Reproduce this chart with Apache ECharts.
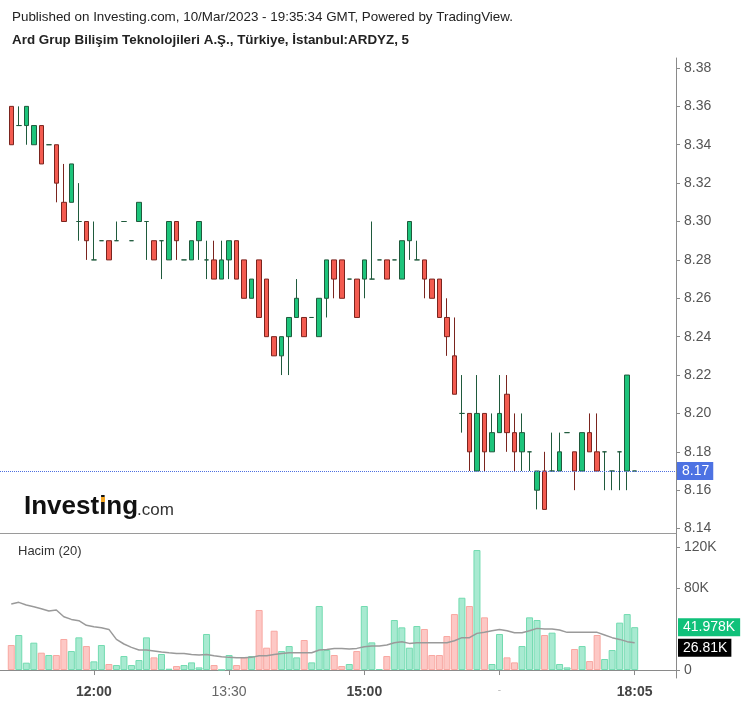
<!DOCTYPE html>
<html><head><meta charset="utf-8">
<script src="https://cdn.jsdelivr.net/npm/echarts@6/dist/echarts.min.js"></script>
<style>html,body{margin:0;padding:0;background:#fff}#c{width:747px;height:707px}</style>
</head><body><div id="c"></div>
<script>
// ---- data ----
const times = ['11:05','11:10','11:15','11:20','11:25','11:30','11:35','11:40','11:45','11:50','11:55',
'12:00','12:05','12:10','12:15','12:20','12:25','12:30','12:35','12:40','12:45','12:50','12:55',
'13:00','13:05','13:10','13:15','13:20','13:25','13:30','13:35','13:40','13:45','13:50','13:55',
'14:00','14:05','14:10','14:15','14:20','14:25','14:30','14:35','14:40','14:45','14:50','14:55',
'15:00','15:05','15:10','15:15','15:20','15:25','15:30','15:35','15:40','15:45','15:50','15:55',
'16:00','16:05','16:10','16:15','16:20','16:25','16:30','16:35','16:40','16:45','16:50','16:55',
'17:00','17:05','17:10','17:15','17:20','17:25','17:30','17:35','17:40','17:45','17:50','17:55','18:05'];
const opens  = [8.36,8.35,8.35,8.34,8.35,8.34,8.34,8.31,8.31,8.30,8.30,8.28,8.29,8.29,8.29,8.30,8.29,8.30,8.30,8.29,8.29,8.28,8.30,8.28,8.28,8.29,8.28,8.28,8.27,8.28,8.29,8.28,8.26,8.28,8.27,8.24,8.23,8.24,8.25,8.25,8.25,8.24,8.26,8.28,8.28,8.27,8.27,8.27,8.27,8.28,8.28,8.28,8.27,8.29,8.28,8.28,8.27,8.27,8.25,8.23,8.20,8.20,8.17,8.20,8.18,8.19,8.21,8.19,8.18,8.18,8.16,8.17,8.17,8.17,8.19,8.18,8.17,8.19,8.18,8.18,8.17,8.18,8.17,8.17];
const closes = [8.34,8.35,8.36,8.35,8.33,8.34,8.32,8.30,8.33,8.30,8.29,8.28,8.29,8.28,8.29,8.30,8.29,8.31,8.30,8.28,8.29,8.30,8.29,8.28,8.29,8.30,8.28,8.27,8.28,8.29,8.27,8.26,8.27,8.25,8.24,8.23,8.24,8.25,8.26,8.24,8.25,8.26,8.28,8.27,8.26,8.27,8.25,8.28,8.27,8.28,8.27,8.28,8.29,8.30,8.28,8.27,8.26,8.25,8.24,8.21,8.20,8.18,8.20,8.18,8.19,8.20,8.19,8.18,8.19,8.18,8.17,8.15,8.17,8.18,8.19,8.17,8.19,8.18,8.17,8.18,8.17,8.18,8.22,8.17];
const lows   = [8.34,8.35,8.34,8.34,8.33,8.34,8.31,8.30,8.31,8.29,8.28,8.28,8.29,8.28,8.29,8.30,8.29,8.30,8.28,8.28,8.27,8.28,8.28,8.28,8.28,8.28,8.27,8.27,8.27,8.27,8.27,8.26,8.26,8.25,8.24,8.23,8.22,8.22,8.25,8.24,8.25,8.24,8.25,8.26,8.26,8.27,8.25,8.26,8.27,8.28,8.27,8.28,8.27,8.28,8.28,8.26,8.26,8.25,8.23,8.21,8.19,8.17,8.17,8.17,8.18,8.19,8.18,8.17,8.17,8.17,8.15,8.15,8.17,8.17,8.19,8.16,8.17,8.18,8.17,8.16,8.16,8.16,8.16,8.17];
const highs  = [8.36,8.36,8.36,8.35,8.35,8.34,8.34,8.33,8.33,8.32,8.30,8.30,8.29,8.29,8.30,8.30,8.29,8.31,8.30,8.29,8.29,8.30,8.30,8.28,8.29,8.30,8.29,8.29,8.29,8.29,8.29,8.28,8.27,8.28,8.27,8.24,8.24,8.25,8.27,8.25,8.25,8.26,8.28,8.28,8.28,8.27,8.27,8.28,8.30,8.28,8.28,8.28,8.29,8.30,8.29,8.28,8.27,8.27,8.26,8.25,8.22,8.20,8.22,8.20,8.20,8.22,8.22,8.20,8.20,8.18,8.17,8.18,8.19,8.19,8.19,8.18,8.19,8.20,8.20,8.18,8.17,8.18,8.22,8.17];
// volume in thousands
const volumes = [24.5,34.3,7.2,26.8,17.0,14.7,14.7,30.4,18.6,32.0,23.5,8.5,24.5,5.9,4.9,13.7,4.9,9.8,32.0,12.4,15.7,1.3,3.9,4.9,7.5,2.6,35.3,4.9,0.3,14.7,4.9,12.4,13.7,58.8,21.9,38.5,18.6,23.5,12.4,29.4,7.5,62.7,19.6,14.7,3.9,5.9,18.6,62.7,27.1,1.0,13.7,49.0,41.8,21.9,43.1,40.2,14.7,14.7,33.3,54.8,70.8,62.7,117.5,51.6,5.9,35.3,12.4,7.5,23.5,51.6,49.0,34.3,36.6,5.9,2.6,20.6,23.5,8.8,34.3,10.8,19.6,46.4,54.8,41.978];
const volumeMA = [64.6,66.3,63.7,62.0,60.1,57.8,58.8,52.2,49.6,48.3,43.8,42.4,41.5,39.8,30.0,25.5,22.2,19.6,19.6,18.6,17.6,16.9,16.3,16.3,15.3,14.7,15.3,14.0,13.1,12.4,12.1,12.1,12.4,14.0,14.0,15.3,16.3,17.0,17.0,17.0,17.0,19.6,20.2,21.2,21.2,20.6,21.2,22.9,23.5,23.5,24.5,26.8,27.8,26.1,26.8,26.8,26.8,26.8,26.8,28.7,31.7,31.7,35.9,36.9,38.5,39.8,38.5,36.6,36.6,38.5,40.8,40.2,40.2,39.2,36.9,36.9,36.9,36.9,36.9,34.3,31.7,30.0,27.8,26.81];
const priceTicks = [8.14,8.16,8.18,8.20,8.22,8.24,8.26,8.28,8.30,8.32,8.34,8.36,8.38];
const volumeTicks = [0,80,120];
const timeLabels = ['12:00','13:30','15:00','16:30','18:05'];
const lastPrice = 8.17;

// ---- build ----
const FONT = '"Liberation Sans", Arial, sans-serif';
const cats = [''].concat(times, ['', '', '', '', '']);
const padWith = (a, e) => [e].concat(a, [e, e, e, e, e]);
const candles = padWith(times.map((t, i) => [opens[i], closes[i], lows[i], highs[i]]), ['-', '-', '-', '-']);
const volData = padWith(volumes.map((v, i) => {
  const down = closes[i] < opens[i];
  return {value: v, itemStyle: {color: down ? '#fdc8c5' : '#a8ead1', borderColor: down ? '#f8a7a1' : '#72dbb0'}};
}), {value: '-'});
const maData = padWith(volumeMA, '-');
const labelSet = new Set(timeLabels);
const showFn = (idx, val) => labelSet.has(val);
const lastVol = volumes[volumes.length - 1];
const lastMA = volumeMA[volumeMA.length - 1];

const chart = echarts.init(document.getElementById('c'), null, {renderer: 'canvas'});
chart.setOption({
  animation: false,
  backgroundColor: '#fff',
  textStyle: {fontFamily: FONT},
  grid: [
    {left: 0, top: 58, width: 676, height: 475},
    {left: 0, top: 533, width: 676, height: 145}
  ],
  xAxis: [
    {type: 'category', gridIndex: 0, data: cats, boundaryGap: true,
     axisLine: {show: true, lineStyle: {color: '#9a9a9a', width: 1}},
     axisTick: {show: false}, axisLabel: {show: false}, splitLine: {show: false}},
    {type: 'category', gridIndex: 1, data: cats, boundaryGap: true,
     axisLine: {show: true, lineStyle: {color: '#8a8a8a', width: 1}},
     axisTick: {show: true, interval: showFn, alignWithLabel: true, length: 5, lineStyle: {color: '#8a8a8a'}},
     axisLabel: {show: true, interval: showFn, margin: 7,
       formatter: v => v === '13:30' ? '{n|13:30}' : (v === '16:30' ? '{d|-}' : '{b|' + v + '}'),
       rich: {b: {fontWeight: 'bold', fontSize: 14, color: '#444', fontFamily: FONT},
              n: {fontSize: 14, color: '#666', fontFamily: FONT},
              d: {fontSize: 10, color: '#bbb', fontFamily: FONT}}},
     splitLine: {show: false}}
  ],
  yAxis: [
    {type: 'value', gridIndex: 0, position: 'right', min: 8.1377, max: 8.3852,
     axisLine: {show: true, lineStyle: {color: '#8a8a8a'}},
     axisTick: {show: true, length: 4, customValues: priceTicks, lineStyle: {color: '#8a8a8a'}},
     axisLabel: {show: true, customValues: priceTicks, margin: 8, color: '#555', fontSize: 14,
       formatter: v => v.toFixed(2)},
     splitLine: {show: false}},
    {type: 'value', gridIndex: 1, position: 'right', min: -7.8, max: 134.2,
     axisLine: {show: true, lineStyle: {color: '#8a8a8a'}},
     axisTick: {show: true, length: 4, customValues: volumeTicks, lineStyle: {color: '#8a8a8a'}},
     axisLabel: {show: true, customValues: volumeTicks, margin: 8, color: '#555', fontSize: 14,
       formatter: v => v === 0 ? '0' : v + 'K'},
     splitLine: {show: false}}
  ],
  series: [
    {type: 'candlestick', xAxisIndex: 0, yAxisIndex: 0, data: candles, barWidth: 5,
     itemStyle: {color: '#1dc47b', color0: '#f35b50', borderColor: '#1f5a3c', borderColor0: '#7a241e',
                 borderColorDoji: '#1f5a3c', borderWidth: 1},
     markLine: {silent: true, symbol: 'none', animation: false,
       data: [{yAxis: lastPrice}],
       lineStyle: {color: '#4d6fe0', type: 'dotted', width: 1},
       label: {show: true, position: 'end', distance: 1, formatter: lastPrice.toFixed(2),
               backgroundColor: '#4d72e3', color: '#fff', fontSize: 14, padding: [2, 4, 2, 5], fontFamily: FONT}}},
    {type: 'bar', xAxisIndex: 1, yAxisIndex: 1, data: volData, barWidth: 7,
     itemStyle: {borderWidth: 1},
     markLine: {silent: true, symbol: 'none', animation: false,
       data: [{yAxis: lastVol}],
       lineStyle: {color: 'rgba(0,0,0,0)', width: 0},
       label: {show: true, position: 'end', distance: 2, formatter: lastVol + 'K', opacity: 1,
               backgroundColor: '#0fc17a', color: '#fff', fontSize: 14, padding: [2, 5, 2, 5], fontFamily: FONT}}},
    {type: 'line', xAxisIndex: 1, yAxisIndex: 1, data: maData, showSymbol: false, symbol: 'none',
     lineStyle: {color: '#9a9a9a', width: 1.5}, itemStyle: {color: '#9a9a9a'},
     markLine: {silent: true, symbol: 'none', animation: false,
       data: [{yAxis: lastMA}],
       lineStyle: {color: 'rgba(0,0,0,0)', width: 0},
       label: {show: true, position: 'end', distance: 2, offset: [0, 5], formatter: lastMA + 'K', opacity: 1,
               backgroundColor: '#000', color: '#fff', fontSize: 14, padding: [2, 4, 2, 5], fontFamily: FONT}}}
  ],
  graphic: [
    {type: 'text', left: 12, top: 11, style: {text: 'Published on Investing.com, 10/Mar/2023 - 19:35:34 GMT, Powered by TradingView.', font: '13.4px ' + FONT, fill: '#222'}},
    {type: 'text', left: 12, top: 34, style: {text: 'Ard Grup Bilişim Teknolojileri A.Ş., Türkiye, İstanbul:ARDYZ, 5', font: 'bold 13.4px ' + FONT, fill: '#222'}},
    {type: 'text', left: 18, top: 545, style: {text: 'Hacim (20)', font: '13px ' + FONT, fill: '#333'}},
    {type: 'text', left: 24, top: 494, style: {text: 'Investing', font: 'bold 26px ' + FONT, fill: '#111'}},
    {type: 'text', left: 137, top: 502, style: {text: '.com', font: '17px ' + FONT, fill: '#333'}},
    {type: 'rect', shape: {x: 101, y: 497, width: 4, height: 5}, style: {fill: '#f5a623'}}
  ]
});
</script></body></html>
